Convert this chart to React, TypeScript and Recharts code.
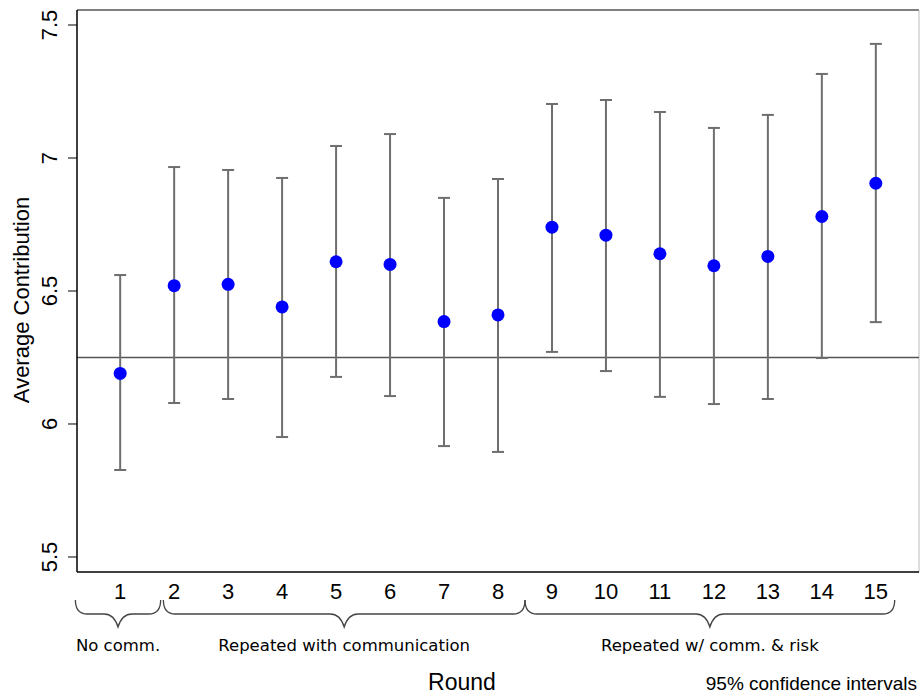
import React from 'react';
import {
  ComposedChart,
  Scatter,
  ErrorBar,
  XAxis,
  YAxis,
  ReferenceLine,
  ReferenceArea,
  Label,
} from 'recharts';

// rounds and average contribution with 95% CI bounds
const rounds = [1, 2, 3, 4, 5, 6, 7, 8, 9, 10, 11, 12, 13, 14, 15];
const means = [6.19, 6.52, 6.525, 6.44, 6.61, 6.6, 6.385, 6.41, 6.74, 6.71, 6.64, 6.595, 6.63, 6.78, 6.905];
const lower = [5.827, 6.079, 6.094, 5.951, 6.177, 6.105, 5.917, 5.895, 6.271, 6.199, 6.102, 6.075, 6.094, 6.248, 6.383];
const upper = [6.56, 6.966, 6.955, 6.925, 7.045, 7.09, 6.85, 6.921, 7.203, 7.218, 7.173, 7.113, 7.162, 7.316, 7.429];

const yTicks = [5.5, 6, 6.5, 7, 7.5];
const baseline = 6.25;
const xDomain = [0.2, 15.8];
const yDomain = [5.4436, 7.5564];

// treatment groups shown as braces under the x axis
const groupLabels = ['No comm.', 'Repeated with communication', 'Repeated w/ comm. & risk'];
const groupFrom = [0.17, 1.8, 8.5];
const groupTo = [1.75, 8.5, 15.35];

const data = rounds.map((r, i) => ({
  round: r,
  mean: means[i],
  err: [means[i] - lower[i], upper[i] - means[i]],
}));

const tickFont = '"Liberation Sans", Arial, Helvetica, sans-serif';
const braceFont = '"DejaVu Sans", Verdana, sans-serif';

const XTick = (props: any) => {
  const { x, payload } = props;
  return (
    <text x={x} y={599} textAnchor="middle" fontSize={22} fontFamily={tickFont} fill="#000">
      {payload.value}
    </text>
  );
};

const YTick = (props: any) => {
  const { y, payload } = props;
  const tx = 57;
  return (
    <text
      x={tx}
      y={y}
      textAnchor="middle"
      fontSize={22}
      fontFamily={tickFont}
      fill="#000"
      transform={`rotate(-90, ${tx}, ${y})`}
    >
      {payload.value}
    </text>
  );
};

const Dot = (props: any) => {
  const { cx, cy } = props;
  return <circle cx={cx} cy={cy} r={6.5} fill="#0000ff" />;
};

const makeBrace = (label: string) => (props: any) => {
  const { x, y, width, height } = props;
  const x0 = x;
  const x1 = x + width;
  const m = x + width / 2;
  const y0 = y + height + 28;
  const y1 = y0 + 14;
  const y2 = y0 + 27;
  const d = `M ${x0} ${y0} Q ${x0} ${y1} ${x0 + 12} ${y1} L ${m - 14} ${y1} Q ${m - 4} ${y1} ${m} ${y2} Q ${m + 4} ${y1} ${m + 14} ${y1} L ${x1 - 12} ${y1} Q ${x1} ${y1} ${x1} ${y0}`;
  return (
    <g>
      <path d={d} fill="none" stroke="#444" strokeWidth={1.3} />
      <text x={m} y={y + height + 79} textAnchor="middle" fontSize={16.5} fontFamily={braceFont} fill="#000">
        {label}
      </text>
    </g>
  );
};

export default function App() {
  return (
    <div style={{ position: 'absolute', left: 0, top: 0, background: '#fff' }}>
      <ComposedChart
        width={920}
        height={694}
        data={data}
        margin={{ top: 10, right: 1, bottom: 0, left: 0 }}
      >
        <XAxis
          dataKey="round"
          type="number"
          domain={xDomain}
          ticks={rounds}
          allowDataOverflow
          tickLine={false}
          axisLine={{ stroke: '#000', strokeWidth: 1.5 }}
          tick={<XTick />}
          height={122}
        >
          <Label
            content={() => (
              <g>
                <text x={462} y={690} textAnchor="middle" fontSize={23} fontFamily={tickFont} fill="#000">
                  Round
                </text>
                <text x={917} y={690} textAnchor="end" fontSize={19} fontFamily={tickFont} fill="#000">
                  95% confidence intervals
                </text>
              </g>
            )}
          />
        </XAxis>
        <YAxis
          type="number"
          domain={yDomain}
          ticks={yTicks}
          allowDataOverflow
          width={77}
          tickSize={9}
          tickLine={{ stroke: '#000', strokeWidth: 1 }}
          axisLine={{ stroke: '#000', strokeWidth: 1.5 }}
          tick={<YTick />}
        >
          <Label
            content={() => (
              <text
                x={29}
                y={300}
                textAnchor="middle"
                fontSize={22}
                fontFamily={tickFont}
                fill="#000"
                transform="rotate(-90, 29, 300)"
              >
                Average Contribution
              </text>
            )}
          />
        </YAxis>
        {/* frame: top and right borders */}
        <ReferenceLine y={yDomain[1]} stroke="#555" strokeWidth={1.5} ifOverflow="visible" />
        <ReferenceLine x={xDomain[1]} stroke="#bbb" strokeWidth={1} ifOverflow="visible" />
        <ReferenceLine y={baseline} stroke="#555" strokeWidth={1.5} />
        {groupLabels.map((lab, i) => (
          <ReferenceArea
            key={lab}
            x1={groupFrom[i]}
            x2={groupTo[i]}
            ifOverflow="visible"
            fill="none"
            shape={makeBrace(lab)}
          />
        ))}
        <Scatter dataKey="mean" isAnimationActive={false} shape={<Dot />}>
          <ErrorBar dataKey="err" direction="y" width={6} stroke="#6e6e6e" strokeWidth={2} isAnimationActive={false} />
        </Scatter>
      </ComposedChart>
    </div>
  );
}
